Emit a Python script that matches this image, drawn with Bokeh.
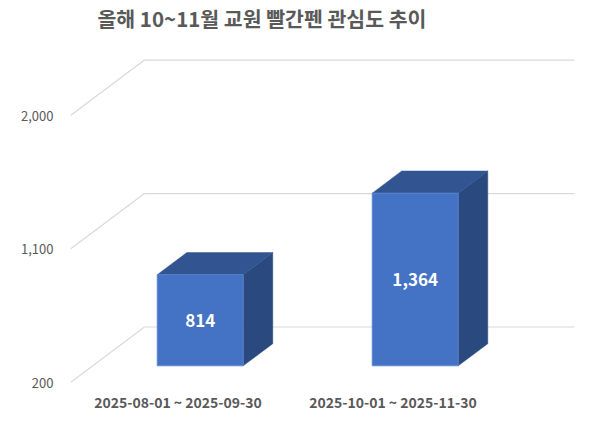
from bokeh.plotting import figure
from bokeh.models import Range1d, FixedTicker, ColumnDataSource, Label
from bokeh.core.properties import value
from bokeh.embed import file_html
from bokeh.resources import INLINE

# ---- data ----
categories = ["2025-08-01 ~ 2025-09-30", "2025-10-01 ~ 2025-11-30"]
counts = [814, 1364]
count_labels = ["814", "1,364"]
y_ticks = [200, 1100, 2000]
y_tick_labels = ["200", "1,100", "2,000"]
title_text = "올해 10~11월 교원 빨간펜 관심도 추이"

# ---- style / projection ----
FONT = "Noto Sans CJK KR"
BASE = y_ticks[0]
DX = 0.344      # depth offset in x units
DY = 374.0      # depth offset in y units
HALF_W = 0.2
T0, T1 = 0.3, 0.7
FRONT = "#4472C4"
TOP = "#325592"
SIDE = "#2A4A7F"
GRID = "#D9D9D9"
TXT = "#595959"

W, H = 584, 416
ML, MR, MT, MB = 70, 9, 0, 34
px_per_unit_y = 0.14833
frame_h = H - MT - MB
y_end = BASE + frame_h / px_per_unit_y
px_per_unit_x = 215.0
frame_w = W - ML - MR
x_end = frame_w / px_per_unit_x

p = figure(width=W, height=H, output_backend="svg", toolbar_location=None,
           x_range=Range1d(0, x_end), y_range=Range1d(BASE, y_end),
           min_border_left=ML, min_border_right=MR, min_border_top=MT,
           min_border_bottom=MB)
p.outline_line_color = None
p.xgrid.visible = False
p.ygrid.visible = False
p.background_fill_color = "white"
p.border_fill_color = "white"

# title placed in the empty top band of the frame
TITLE_DX_PX, TITLE_FROM_TOP_PX = 27, 17
title = Label(x=TITLE_DX_PX / px_per_unit_x,
              y=y_end - TITLE_FROM_TOP_PX / px_per_unit_y,
              text=title_text, text_font=FONT, text_font_size="20.5px",
              text_font_style="bold", text_color=TXT,
              text_align="left", text_baseline="middle")
p.add_layout(title)

# gridlines (side wall diagonal + back wall)
xs, ys = [], []
n = len(categories)
for v in y_ticks:
    xs.append([0, DX, n + DX])
    ys.append([v, v + DY, v + DY])
p.multi_line(xs, ys, line_color=GRID, line_width=1.2)

# bars
fx0, fx1, fy0, fy1 = [], [], [], []
top_x, top_y, side_x, side_y = [], [], [], []
lx, ly = [], []
for i, v in enumerate(counts):
    c = i + 0.5
    l0 = c - HALF_W + T0 * DX
    r0 = c + HALF_W + T0 * DX
    l1 = c - HALF_W + T1 * DX
    r1 = c + HALF_W + T1 * DX
    b0 = BASE + T0 * DY
    b1 = BASE + T1 * DY
    v0 = v + T0 * DY
    v1 = v + T1 * DY
    fx0.append(l0); fx1.append(r0); fy0.append(b0); fy1.append(v0)
    top_x.append([l0, r0, r1, l1]); top_y.append([v0, v0, v1, v1])
    side_x.append([r0, r1, r1, r0]); side_y.append([b0, b1, v1, v0])
    lx.append(c + T0 * DX); ly.append((BASE + v) / 2 + T0 * DY)

p.patches(side_x, side_y, fill_color=SIDE, line_color=SIDE, line_width=0.5)
p.patches(top_x, top_y, fill_color=TOP, line_color=TOP, line_width=0.5)
p.quad(left=fx0, right=fx1, bottom=fy0, top=fy1, fill_color=FRONT,
       line_color="#5A86D0", line_width=0.8)

src = ColumnDataSource(dict(x=lx, y=ly, t=count_labels))
p.text(x="x", y="y", text="t", source=src, text_color="white",
       text_font=value(FONT), text_font_size="17px", text_font_style="bold",
       text_align="center", text_baseline="middle")

# axes
p.yaxis.ticker = FixedTicker(ticks=y_ticks)
p.yaxis.major_label_overrides = {t: s for t, s in zip(y_ticks, y_tick_labels)}
p.yaxis.axis_line_color = None
p.yaxis.major_tick_line_color = None
p.yaxis.minor_tick_line_color = None
p.yaxis.major_tick_out = 0
p.yaxis.major_tick_in = 0
p.yaxis.major_label_standoff = 17
p.yaxis.major_label_text_font = FONT
p.yaxis.major_label_text_font_size = "13px"
p.yaxis.major_label_text_color = TXT

x_ticks = [i + 0.5 for i in range(n)]
p.xaxis.ticker = FixedTicker(ticks=x_ticks)
p.xaxis.major_label_overrides = {t: s for t, s in zip(x_ticks, categories)}
p.xaxis.axis_line_color = None
p.xaxis.major_tick_line_color = None
p.xaxis.minor_tick_line_color = None
p.xaxis.major_tick_out = 0
p.xaxis.major_tick_in = 0
p.xaxis.major_label_standoff = 9
p.xaxis.major_label_text_font = FONT
p.xaxis.major_label_text_font_size = "14px"
p.xaxis.major_label_text_font_style = "bold"
p.xaxis.major_label_text_color = TXT

open("out.html", "w").write(file_html(p, INLINE))
